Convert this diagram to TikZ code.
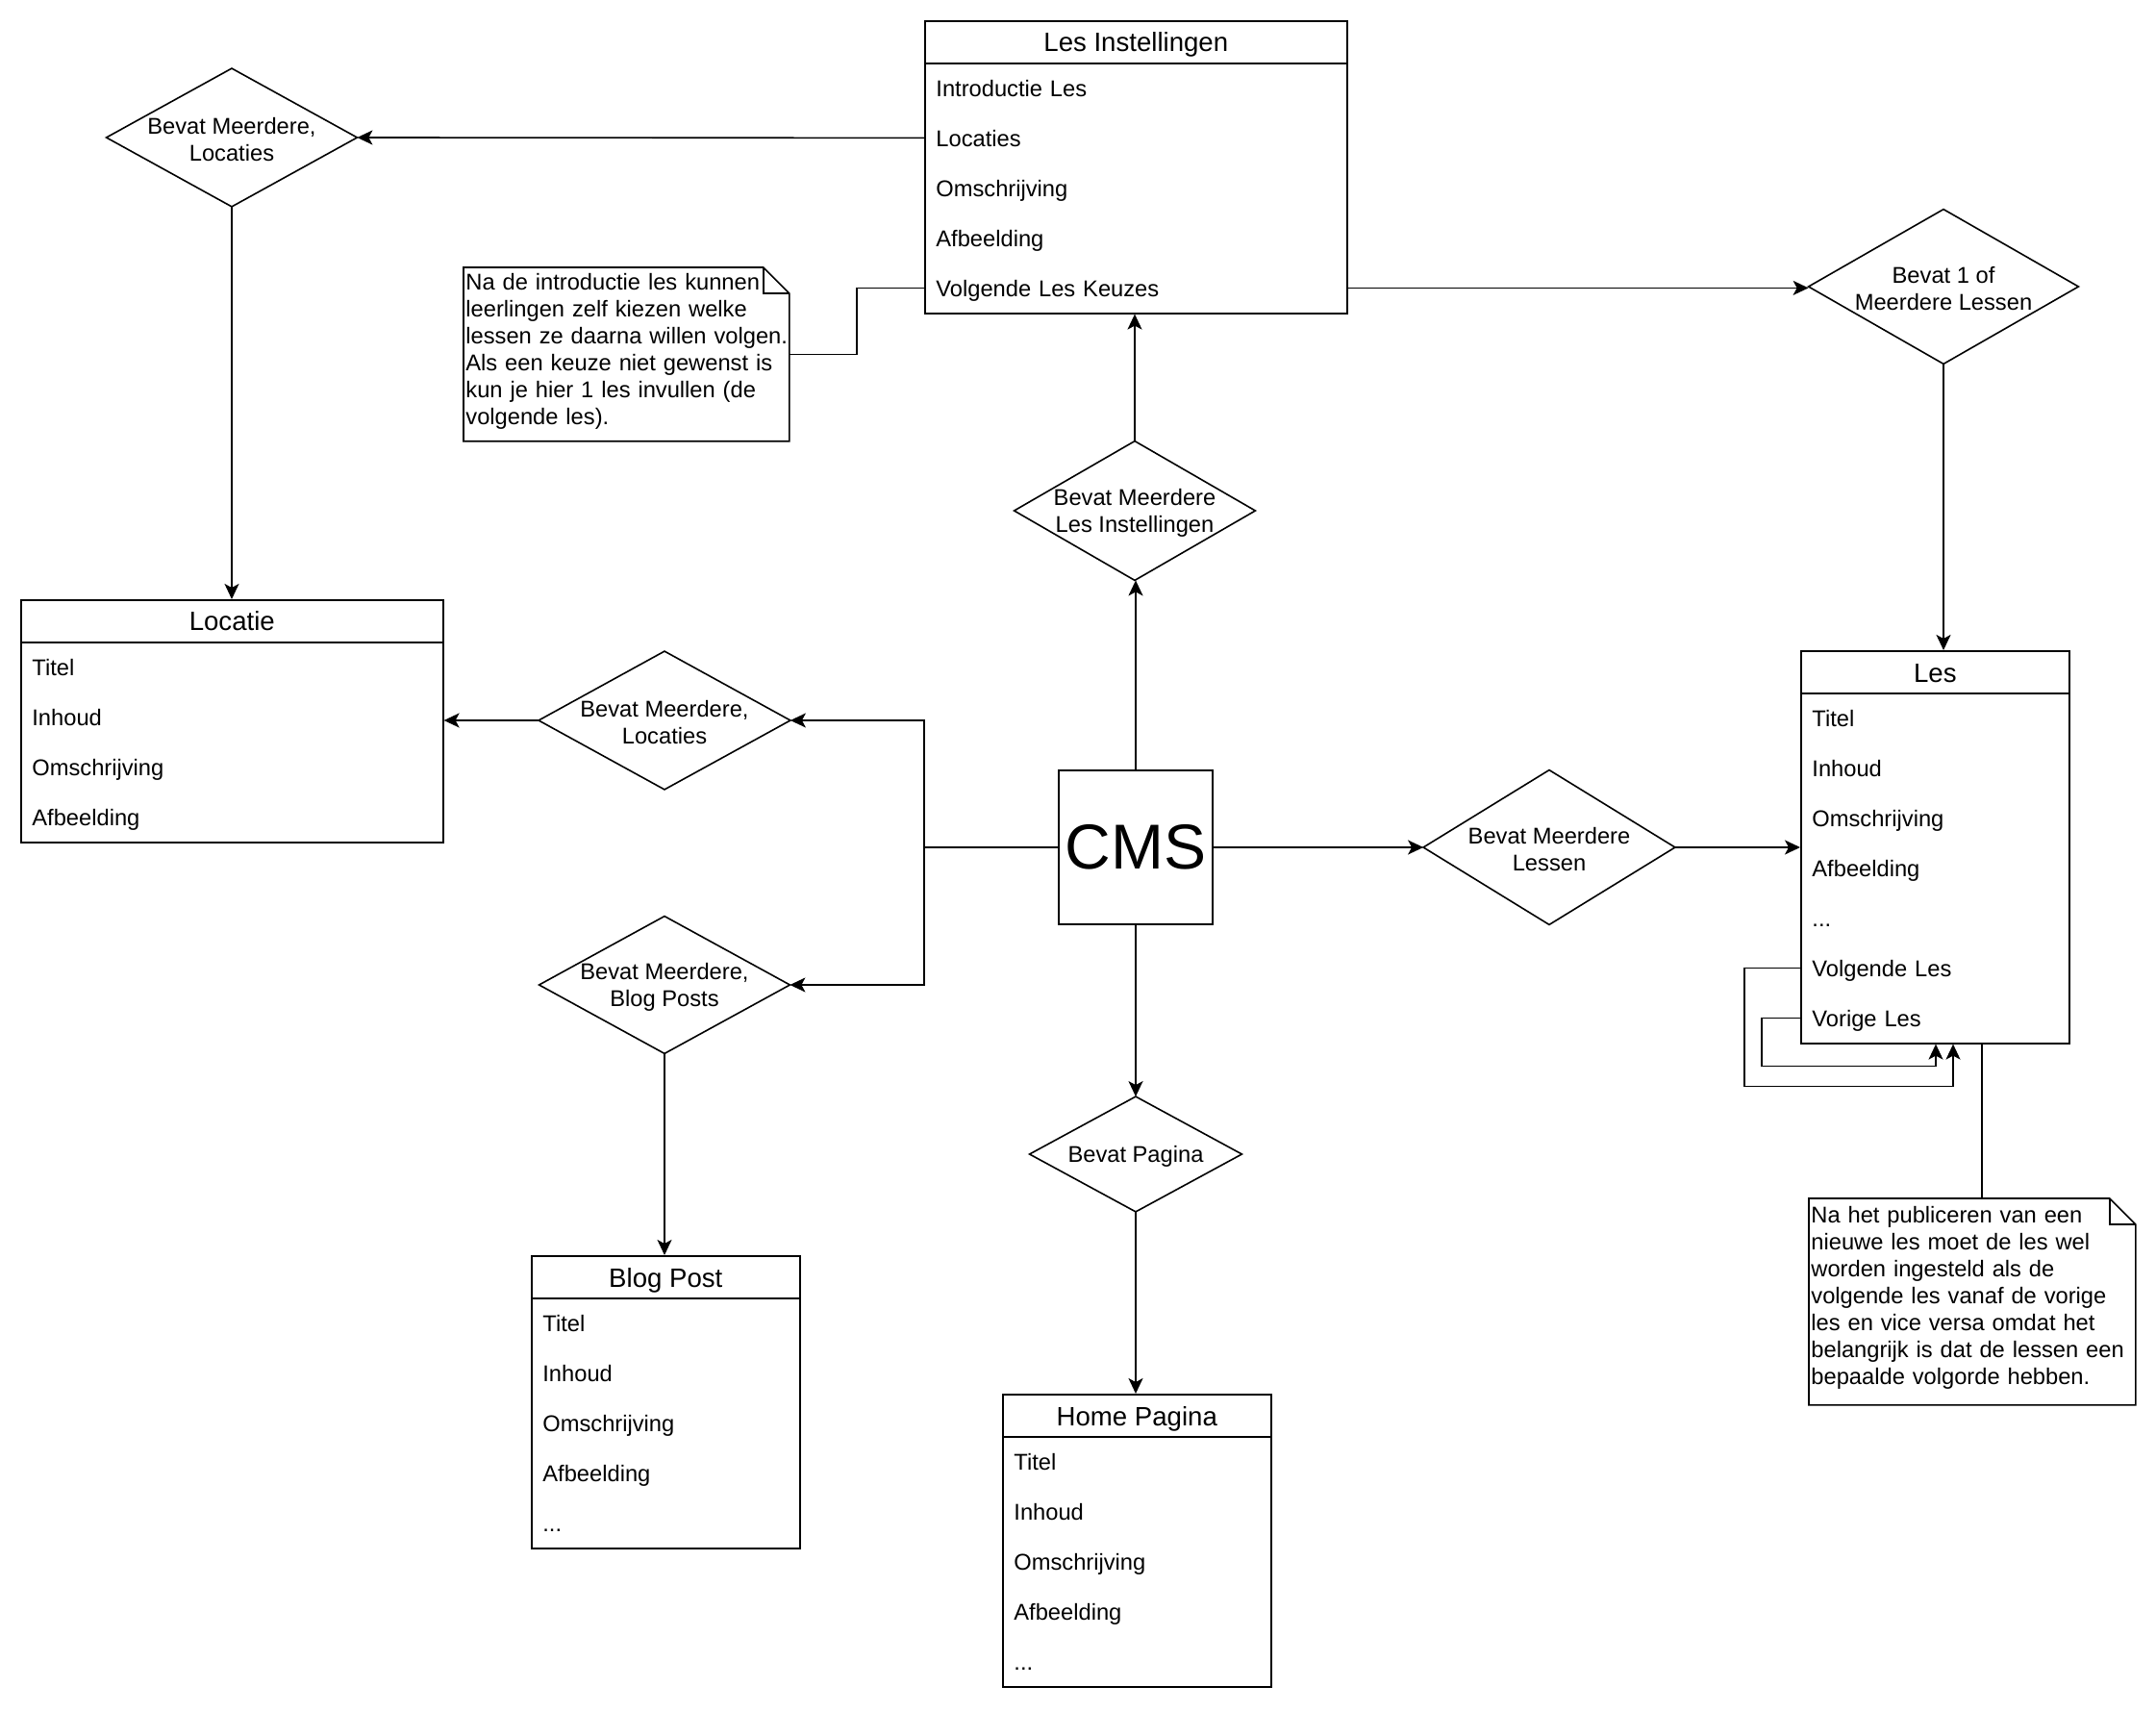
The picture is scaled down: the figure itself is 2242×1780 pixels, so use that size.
\documentclass[tikz,border=0pt]{standalone}
\usepackage{fontspec}
\setmainfont{Liberation Sans}
\usetikzlibrary{arrows.meta,calc}
\tikzset{
  ln/.style={line width=0.8pt, draw=black},
  arr/.style={ln, -{Stealth[length=8pt,width=7.5pt,inset=2pt]}},
  ehead/.style={draw, line width=0.8pt, inner sep=0pt, text height=10.7pt, text depth=0.5pt, font=\fontsize{13.8}{16}\selectfont},
  ebody/.style={draw, line width=0.8pt, inner sep=0pt},
  erow/.style={inner xsep=6pt, inner ysep=0pt, minimum height=26pt, text height=9.2pt, text depth=0.4pt, align=left, font=\fontsize{11.85}{14}\selectfont, anchor=north west},
  dframe/.style={inner sep=0pt},
  dtext/.style={inner sep=0pt, align=center, yshift=-1.2pt, font=\fontsize{11.85}{14}\selectfont},
  noteframe/.style={inner sep=0pt, anchor=north west},
  notetext/.style={inner xsep=1pt, align=left, anchor=north west, text width=200pt, font=\fontsize{11.85}{14}\selectfont},
}
\newcommand{\mydots}{...}
\newcommand{\entitybox}[7]{%
  \pgfmathsetmacro{\ebw}{#4*0.5}%
  \pgfmathsetmacro{\ebh}{(44+#5*52)*0.5}%
  \pgfmathsetmacro{\ebtw}{#4*0.5-12}%
  \node[ebody, minimum width=\ebw pt, minimum height=\ebh pt, anchor=north west] (#1) at (#2,#3) {};
  \node[ehead, minimum width=\ebw pt, minimum height=22pt, anchor=north west] (#1-h) at (#2,#3) {#6};
  \foreach \rt [count=\ri] in {#7}{
    \node[erow, text width=\ebtw pt] (#1-\ri) at (#2,{#3+44+(\ri-1)*52}) {\rt};
  }%
}
% diamond: name, x, y, width(pt), height(pt), text
\newcommand{\diamondnode}[6]{%
  \node[dframe, minimum width=#4pt, minimum height=#5pt] (#1) at (#2,#3) {};
  \draw[ln] (#1.north) -- (#1.east) -- (#1.south) -- (#1.west) -- cycle;
  \node[dtext] (#1t) at (#1.center) {#6};%
}
\newcommand{\noteshape}[1]{%
  \draw[ln] (#1.north west) -- ($(#1.north east)+(-27,0)$) -- ($(#1.north east)+(0,27)$) -- (#1.south east) -- (#1.south west) -- cycle;
  \draw[ln] ($(#1.north east)+(-27,0)$) -- ($(#1.north east)+(-27,27)$) -- ($(#1.north east)+(0,27)$);%
}
\begin{document}
\begin{tikzpicture}[x=0.5pt,y=-0.5pt]
\fill[white] (0,0) rectangle (2242,1780);
\useasboundingbox (0,0) rectangle (2242,1780);

% entities
\entitybox{li}{961}{21}{439}{5}{Les Instellingen}{Introductie Les,Locaties,Omschrijving,Afbeelding,Volgende Les Keuzes}
\entitybox{loc}{21}{623}{439}{4}{Locatie}{Titel,Inhoud,Omschrijving,Afbeelding}
\entitybox{les}{1872}{676}{279}{7}{Les}{Titel,Inhoud,Omschrijving,Afbeelding,\mydots,Volgende Les,Vorige Les}
\entitybox{bp}{552}{1305}{279}{5}{Blog Post}{Titel,Inhoud,Omschrijving,Afbeelding,\mydots}
\entitybox{hp}{1042}{1449}{279}{5}{Home Pagina}{Titel,Inhoud,Omschrijving,Afbeelding,\mydots}

% CMS
\node[draw, line width=0.8pt, minimum width=80pt, minimum height=80pt, inner sep=0pt, font=\fontsize{33}{36}\selectfont] (cms) at (1181,881) {CMS};

% diamonds
\diamondnode{d1}{241}{143}{130}{71.5}{Bevat Meerdere,\\Locaties}
\diamondnode{d2}{2021}{298}{140}{80}{Bevat 1 of\\Meerdere Lessen}
\diamondnode{d3}{1180}{531}{125}{72}{Bevat Meerdere\\Les Instellingen}
\diamondnode{d4}{691}{749}{130.5}{71.5}{Bevat Meerdere,\\Locaties}
\diamondnode{d5}{691}{1024}{130}{71}{Bevat Meerdere,\\Blog Posts}
\diamondnode{d6}{1611}{881}{130.5}{80}{Bevat Meerdere\\Lessen}
\diamondnode{d7}{1181}{1200}{110}{59.5}{Bevat Pagina}

% notes
\node[noteframe, minimum width=169pt, minimum height=90pt] (n1) at (482,278) {};
\noteshape{n1}
\node[notetext, inner ysep=3.2pt] (n1t) at (n1.north west) {Na de introductie les kunnen\\leerlingen zelf kiezen welke\\lessen ze daarna willen volgen.\\Als een keuze niet gewenst is\\kun je hier 1 les invullen (de\\volgende les).};
\node[noteframe, minimum width=169.5pt, minimum height=107pt] (n2) at (1881,1246) {};
\noteshape{n2}
\node[notetext, inner ysep=4.2pt] (n2t) at (n2.north west) {Na het publiceren van een\\nieuwe les moet de les wel\\worden ingesteld als de\\volgende les vanaf de vorige\\les en vice versa omdat het\\belangrijk is dat de lessen een\\bepaalde volgorde hebben.};

% connectors
\draw[arr] (li-2.west) -- (d1.east);
\draw[arr] (d1.south) -- (d1.south |- loc.north);
\draw[arr] (li-5.east) -- (li-5.east -| d2.west);
\draw[arr] (d2.south) -- (d2.south |- les.north);
\draw[ln] (n1.east) -| ($(n1.east)!.5!(li-5.west)$) |- (li-5.west);
\draw[arr] (d3.north) -- (d3.north |- li.south);
\draw[arr] (cms.north) -- (cms.north |- d3.south);
\coordinate (jl) at (961,881);
\draw[ln] (cms.west) -- (jl);
\draw[arr] (jl) |- (d4.east);
\draw[arr] (jl) |- (d5.east);
\draw[arr] (d4.west) -- (d4.west -| loc.east);
\draw[arr] (d5.south) -- (d5.south |- bp.north);
\draw[arr] (cms.east) -- (d6.west);
\draw[arr] (d6.east) -- (d6.east -| les.west);
\draw[arr] (cms.south) -- (cms.south |- d7.north);
\draw[arr] (d7.south) -- (d7.south |- hp.north);
% self loops on Les
\draw[arr] (les-6.west) -- ++(-58,0) -- ++(0,123) -| ($(les.south west)+(159,0)$);
\draw[arr] (les-7.west) -- ++(-40,0) -- ++(0,50) -| ($(les.south west)+(141,0)$);
% note link
\coordinate (lnk) at ($(les.south west)+(189,0)$);
\draw[ln] (lnk) -- (lnk |- n2.north);
\end{tikzpicture}
\end{document}
